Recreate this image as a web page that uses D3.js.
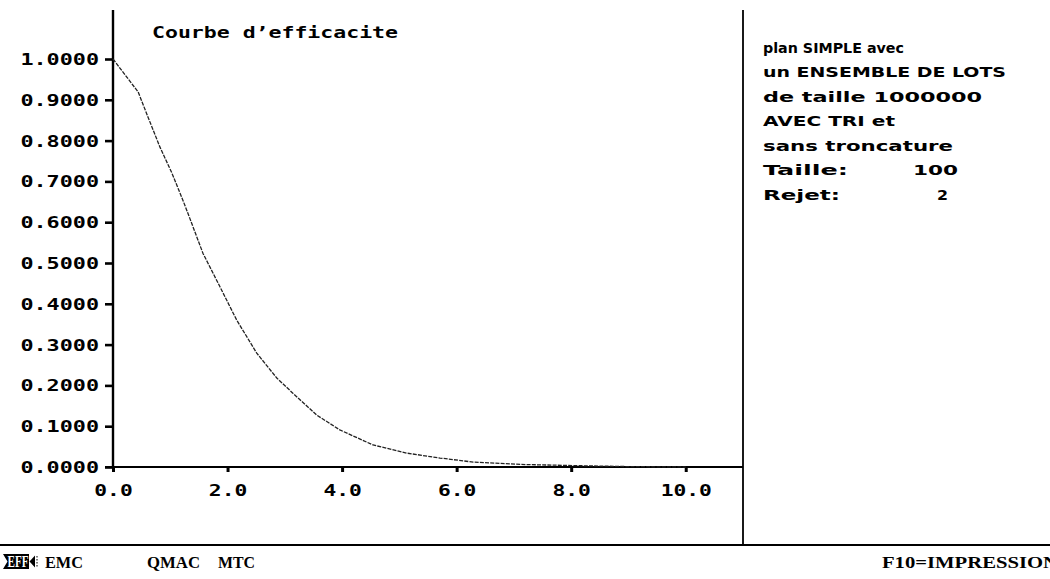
<!DOCTYPE html>
<html>
<head>
<meta charset="utf-8">
<script src="https://cdn.jsdelivr.net/npm/d3@7"></script>
<style>
  html, body { margin: 0; padding: 0; background: #fff; }
  svg { display: block; }
</style>
</head>
<body>
<script>
// ---------- data ----------
const xValues = [0, 0.44, 0.61, 0.82, 1.03, 1.22, 1.34, 1.57, 1.87, 2.16, 2.51, 2.86, 3.14, 3.56, 3.96, 4.54, 5.13, 5.71, 6.29, 7.2, 8.2, 9.0, 10.0];
const pAccept = [1.0, 0.919, 0.858, 0.784, 0.72, 0.654, 0.61, 0.524, 0.441, 0.36, 0.279, 0.218, 0.181, 0.127, 0.091, 0.054, 0.034, 0.022, 0.012, 0.006, 0.003, 0.001, 0.0];
const yTickValues = [0, 0.1, 0.2, 0.3, 0.4, 0.5, 0.6, 0.7, 0.8, 0.9, 1.0];
const xTickValues = [0, 2, 4, 6, 8, 10];
const chartTitle = "Courbe d\u2019efficacite";
const panelLines = ["plan SIMPLE avec", "un ENSEMBLE DE LOTS", "de taille 1000000", "AVEC TRI et", "sans troncature"];
const paramLabels = ["Taille:", "Rejet:"];
const paramValues = ["100", "2"];
const menuItems = ["EFF", "EMC", "QMAC", "MTC"];
const menuRight = "F10=IMPRESSION";

// ---------- layout ----------
const W = 1050, H = 579;
const panelWidths = [141, 243, 219, 132, 190];
const paramLabelWidths = [85, 77];
const paramValueX = [913, 937];
const paramValueWidths = [45, 11];
const menuX = [null, 45, 147, 218];
const menuWidths = [21, 38, 53, 37];

const svg = d3.select("body").append("svg").attr("width", W).attr("height", H);

const x = d3.scaleLinear().domain([0, 11]).range([113, 743]);
const y = d3.scaleLinear().domain([0, 1]).range([467, 59]);

const monoFont = "'DejaVu Sans Mono', monospace";

// y axis
const yAxis = d3.axisLeft(y).tickValues(yTickValues).tickSize(8).tickPadding(6)
  .tickFormat(d3.format(".4f"));
const gy = svg.append("g").attr("transform", `translate(${x(0)},0)`).call(yAxis);
gy.select(".domain").remove();
gy.selectAll(".tick line").attr("stroke", "#000").attr("stroke-width", 2.6);
gy.selectAll(".tick text")
  .attr("fill", "#000")
  .attr("font-family", monoFont).attr("font-weight", "bold").attr("font-size", 15)
  .attr("dy", "0.36em")
  .attr("textLength", d => d3.format(".4f")(d).length * 13.1)
  .attr("lengthAdjust", "spacingAndGlyphs");

// x axis
const xAxis = d3.axisBottom(x).tickValues(xTickValues).tickSize(5).tickPadding(13)
  .tickFormat(d3.format(".1f"));
const gx = svg.append("g").attr("transform", `translate(0,${y(0)})`).call(xAxis);
gx.select(".domain").remove();
gx.selectAll(".tick line").attr("stroke", "#000").attr("stroke-width", 3);
gx.selectAll(".tick text")
  .attr("fill", "#000")
  .attr("font-family", monoFont).attr("font-weight", "bold").attr("font-size", 15)
  .attr("textLength", d => d3.format(".1f")(d).length * 12.8)
  .attr("lengthAdjust", "spacingAndGlyphs");

// axis lines
svg.append("line").attr("x1", x(0)).attr("x2", x(0)).attr("y1", 10).attr("y2", y(0))
  .attr("stroke", "#000").attr("stroke-width", 2.4);
svg.append("line").attr("x1", x(0) - 8).attr("x2", x(11)).attr("y1", y(0)).attr("y2", y(0))
  .attr("stroke", "#000").attr("stroke-width", 2.2);

// panel separators
svg.append("line").attr("x1", x(11)).attr("x2", x(11)).attr("y1", 10).attr("y2", 545)
  .attr("stroke", "#000").attr("stroke-width", 1.8);
svg.append("line").attr("x1", 0).attr("x2", W).attr("y1", 545).attr("y2", 545)
  .attr("stroke", "#000").attr("stroke-width", 1.8);

// title
svg.append("text").attr("x", 152).attr("y", 37.5).text(chartTitle)
  .attr("font-family", monoFont).attr("font-weight", "bold").attr("font-size", 15)
  .attr("textLength", 246).attr("lengthAdjust", "spacingAndGlyphs");

// curve
const line = d3.line().x((d, i) => x(xValues[i])).y(d => y(d)).curve(d3.curveLinear);
svg.append("path").datum(pAccept).attr("d", line)
  .attr("fill", "none").attr("stroke", "#222").attr("stroke-width", 1.3)
  .attr("stroke-dasharray", "4,1.2");

// right panel text
const panelFont = "'DejaVu Sans', sans-serif";
svg.selectAll("text.panel").data(panelLines).enter().append("text")
  .attr("class", "panel")
  .attr("x", 763).attr("y", (d, i) => 52.5 + i * 24.5)
  .text(d => d)
  .attr("font-family", panelFont).attr("font-weight", "bold").attr("font-size", 13.5)
  .attr("textLength", (d, i) => panelWidths[i]).attr("lengthAdjust", "spacingAndGlyphs");
svg.selectAll("text.plabel").data(paramLabels).enter().append("text")
  .attr("class", "plabel")
  .attr("x", 763).attr("y", (d, i) => 52.5 + (i + panelLines.length) * 24.5)
  .text(d => d)
  .attr("font-family", panelFont).attr("font-weight", "bold").attr("font-size", 13.5)
  .attr("textLength", (d, i) => paramLabelWidths[i]).attr("lengthAdjust", "spacingAndGlyphs");
svg.selectAll("text.pval").data(paramValues).enter().append("text")
  .attr("class", "pval")
  .attr("x", (d, i) => paramValueX[i]).attr("y", (d, i) => 52.5 + (i + panelLines.length) * 24.5)
  .text(d => d)
  .attr("font-family", panelFont).attr("font-weight", "bold").attr("font-size", 13.5)
  .attr("textLength", (d, i) => paramValueWidths[i]).attr("lengthAdjust", "spacingAndGlyphs");

// bottom menu
const serif = "'Liberation Serif', 'DejaVu Serif', serif";
// highlighted first item
svg.append("path").attr("d", "M3,554 L29,554 L29,569 L3,569 L7.5,561.5 Z").attr("fill", "#000");
svg.append("path").attr("d", "M29.5,561.5 L35,555.5 L35,567.5 Z").attr("fill", "#000");
svg.append("line").attr("x1", 37).attr("x2", 37).attr("y1", 556).attr("y2", 568)
  .attr("stroke", "#000").attr("stroke-width", 1).attr("stroke-dasharray", "1.5,1.5");
svg.append("text").attr("x", 7.5).attr("y", 567).text(menuItems[0])
  .attr("font-family", serif).attr("font-weight", "bold").attr("font-size", 16).attr("fill", "#fff")
  .attr("textLength", menuWidths[0]).attr("lengthAdjust", "spacingAndGlyphs");
svg.selectAll("text.menu").data(menuItems.slice(1)).enter().append("text")
  .attr("class", "menu")
  .attr("x", (d, i) => menuX[i + 1]).attr("y", 568)
  .text(d => d)
  .attr("font-family", serif).attr("font-weight", "bold").attr("font-size", 17)
  .attr("textLength", (d, i) => menuWidths[i + 1]).attr("lengthAdjust", "spacingAndGlyphs");
svg.append("text").attr("x", 882).attr("y", 568).text(menuRight)
  .attr("font-family", serif).attr("font-weight", "bold").attr("font-size", 17)
  .attr("textLength", 176).attr("lengthAdjust", "spacingAndGlyphs");
</script>
</body>
</html>
